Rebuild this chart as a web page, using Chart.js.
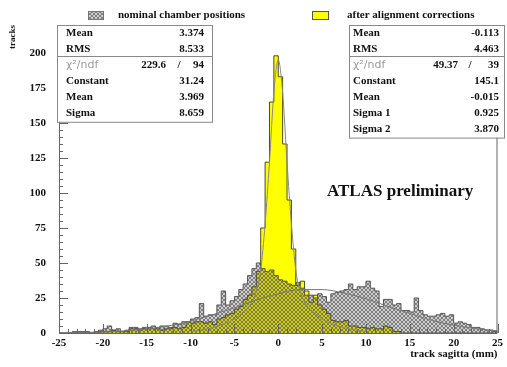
<!DOCTYPE html>
<html>
<head>
<meta charset="utf-8">
<script src="https://cdn.jsdelivr.net/npm/chart.js@4.4.0/dist/chart.umd.min.js"></script>
<style>
  html, body { margin: 0; padding: 0; background: #fff; }
  #wrap { position: relative; width: 507px; height: 367px; }
</style>
</head>
<body>
<div id="wrap">
  <canvas id="sagitta" width="507" height="367"></canvas>
</div>
<script>
// Histogramas: 100 bins de 0.5 mm entre -25 e 25
var histMin = -25
var binWidth = 0.5

// Posições nominais das câmaras (cinza, hachurado)
var nominal = [
  0, 0, 0, 1, 1, 1, 1, 0, 1, 2,
  3, 5, 2, 3, 1, 2, 4, 4, 3, 4,
  4, 5, 4, 5, 5, 4, 7, 6, 8, 8,
  10, 11, 21, 12, 13, 13, 20, 30, 20, 23,
  26, 31, 35, 41, 46, 50, 46, 44, 45, 41,
  38, 37, 35, 34, 36, 32, 27, 27, 25, 28,
  26, 22, 28, 29, 30, 31, 35, 31, 33, 33,
  37, 32, 30, 19, 24, 24, 20, 21, 16, 16,
  15, 25, 16, 13, 12, 12, 13, 14, 12, 13,
  7, 8, 7, 6, 4, 4, 3, 2, 2, 1
]

// Depois das correções de alinhamento (amarelo)
var aligned = [
  0, 0, 0, 0, 0, 0, 0, 0, 0, 1,
  1, 1, 2, 1, 1, 1, 3, 3, 2, 3,
  3, 3, 3, 2, 3, 3, 4, 3, 4, 8,
  7, 8, 8, 7, 8, 6, 10, 11, 13, 14,
  17, 19, 24, 27, 33, 44, 75, 122, 165, 198,
  183, 135, 95, 60, 34, 37, 30, 22, 27, 20,
  17, 14, 9, 8, 8, 9, 5, 5, 4, 4,
  3, 4, 3, 3, 5, 4, 1, 1, 0, 0,
  0, 0, 0, 0, 0, 0, 0, 0, 0, 0,
  0, 0, 0, 0, 0, 0, 0, 0, 0, 0
]

// Curvas de ajuste
var fitNominalX = [-25, -22.5, -20, -17.5, -15, -12.5, -10, -7.5, -5, -2.5, 0, 2.5, 5, 7.5, 10, 12.5, 15, 17.5, 20, 22.5, 25]
var fitNominalY = [0.1, 0.3, 0.7, 1.5, 2.8, 5.1, 8.5, 13, 18, 23.5, 28, 31, 31, 28.5, 24.5, 19, 14, 9, 5.6, 3.2, 1.6]
var fitAlignedX = [-10, -8, -6, -5, -4, -3, -2.5, -2, -1.5, -1, -0.5, 0, 0.5, 1, 1.5, 2, 2.5, 3, 4, 5, 6, 8, 10]
var fitAlignedY = [1, 3, 7, 10, 15, 22, 30, 45, 78, 122, 172, 195, 172, 122, 78, 45, 30, 22, 15, 10, 7, 3, 1]

// Eixos
var xTicks = [-25, -20, -15, -10, -5, 0, 5, 10, 15, 20, 25]
var yTicks = [0, 25, 50, 75, 100, 125, 150, 175, 200]
var yMax = 220

// Caixas de estatística
var statsNominal = [
  ['Mean', '3.374'],
  ['RMS', '8.533'],
  ['chi2', '229.6', '94'],
  ['Constant', '31.24'],
  ['Mean', '3.969'],
  ['Sigma', '8.659']
]
var statsAligned = [
  ['Mean', '-0.113'],
  ['RMS', '4.463'],
  ['chi2', '49.37', '39'],
  ['Constant', '145.1'],
  ['Mean', '-0.015'],
  ['Sigma 1', '0.925'],
  ['Sigma 2', '3.870']
]

var serif = '"Liberation Serif", "DejaVu Serif", serif'

// Converte bins em pontos de degrau
function histPoints(values) {
  let pts = [{ x: histMin, y: 0 }]
  for (let i = 0; i < values.length; i++) {
    pts.push({ x: histMin + i * binWidth, y: values[i] })
  }
  let end = histMin + values.length * binWidth
  pts.push({ x: end, y: values[values.length - 1] })
  pts.push({ x: end, y: 0 })
  return pts
}

function curvePoints(xs, ys) {
  return xs.map((x, i) => ({ x: x, y: ys[i] }))
}

// Padrão hachurado cinza
function makeHatch() {
  let c = document.createElement('canvas')
  c.width = 4
  c.height = 4
  let g = c.getContext('2d')
  g.fillStyle = 'rgba(110, 110, 110, 0.34)'
  g.fillRect(0, 0, 4, 4)
  g.fillStyle = 'rgba(60, 60, 60, 0.55)'
  for (let i = 0; i < 4; i++) {
    g.fillRect(i, i, 1, 1)
    g.fillRect(3 - i, i, 1, 1)
  }
  return g.createPattern(c, 'repeat')
}

var hatch = makeHatch()

// Moldura, marcas menores, legenda e caixas
var decorations = {
  id: 'decorations',
  afterDatasetsDraw(chart) {
    let ctx = chart.ctx
    let a = chart.chartArea
    let xs = chart.scales.x
    let ys = chart.scales.y
    ctx.save()
    ctx.strokeStyle = '#666'
    ctx.lineWidth = 1
    ctx.beginPath()
    ctx.moveTo(a.left + 0.5, a.top)
    ctx.lineTo(a.left + 0.5, a.bottom + 0.5)
    ctx.lineTo(a.right - 0.5, a.bottom + 0.5)
    ctx.lineTo(a.right - 0.5, a.top)
    // marcas do eixo y
    for (let v = 0; v <= yMax; v += 5) {
      let py = Math.round(ys.getPixelForValue(v)) + 0.5
      let len = v % 25 === 0 ? 9 : 4
      ctx.moveTo(a.left, py)
      ctx.lineTo(a.left + len, py)
    }
    // marcas do eixo x
    for (let v = -25; v <= 25; v += 1) {
      let px = Math.round(xs.getPixelForValue(v)) + 0.5
      let len = v % 5 === 0 ? 9 : 4
      ctx.moveTo(px, a.bottom)
      ctx.lineTo(px, a.bottom - len)
    }
    ctx.stroke()

    // legenda
    ctx.fillStyle = hatch
    ctx.fillRect(88, 11, 15, 8)
    ctx.strokeStyle = '#777'
    ctx.strokeRect(88.5, 11.5, 15, 8)
    ctx.fillStyle = '#ffff00'
    ctx.fillRect(312, 11, 16, 8)
    ctx.strokeStyle = '#555'
    ctx.strokeRect(312.5, 11.5, 16, 8)
    ctx.fillStyle = '#111'
    ctx.font = 'bold 11px ' + serif
    ctx.textBaseline = 'middle'
    ctx.textAlign = 'left'
    ctx.fillText('nominal chamber positions', 118, 15)
    ctx.fillText('after alignment corrections', 347, 15)

    // caixas de estatística
    statsBox(ctx, statsNominal, 57, 213, 66, 204, 179, 166)
    statsBox(ctx, statsAligned, 349, 505, 353, 499, 470, 458)

    // texto ATLAS
    ctx.fillStyle = '#111'
    ctx.font = 'bold 17px ' + serif
    ctx.textAlign = 'left'
    ctx.fillText('ATLAS preliminary', 327, 192)
    ctx.restore()
  }
}

function statsBox(ctx, rows, left, right, labelX, valueX, slashX, chiX) {
  let top = 25
  let rowH = 15.8
  let bottom = top + 8 + rows.length * rowH - 6
  ctx.fillStyle = '#fff'
  ctx.fillRect(left, top, right - left, bottom - top)
  ctx.strokeStyle = '#888'
  ctx.strokeRect(left + 0.5, top + 0.5, right - left - 1, bottom - top)
  let sep = Math.round(top + 8 + 1.5 * rowH - 0.5) + 0.5
  ctx.beginPath()
  ctx.moveTo(left, sep)
  ctx.lineTo(right, sep)
  ctx.stroke()
  ctx.textBaseline = 'middle'
  for (let i = 0; i < rows.length; i++) {
    let y = top + 8 + i * rowH + (i >= 2 ? 1 : 0)
    let r = rows[i]
    if (r[0] === 'chi2') {
      ctx.fillStyle = '#9a9a9a'
      ctx.font = '11px "DejaVu Sans", sans-serif'
      ctx.textAlign = 'left'
      ctx.fillText('\u03c7\u00b2/ndf', labelX, y)
      ctx.fillStyle = '#111'
      ctx.font = 'bold 11px ' + serif
      ctx.textAlign = 'right'
      ctx.fillText(r[1], chiX, y)
      ctx.textAlign = 'center'
      ctx.fillText('/', slashX, y)
      ctx.textAlign = 'right'
      ctx.fillText(r[2], valueX, y)
    } else {
      ctx.fillStyle = '#111'
      ctx.font = 'bold 11px ' + serif
      ctx.textAlign = 'left'
      ctx.fillText(r[0], labelX, y)
      ctx.textAlign = 'right'
      ctx.fillText(r[1], valueX, y)
    }
  }
}

var chart = new Chart(document.getElementById('sagitta').getContext('2d'), {
  type: 'line',
  data: {
    datasets: [{
      label: 'nominal chamber positions',
      data: histPoints(nominal),
      stepped: 'before',
      fill: 'origin',
      backgroundColor: hatch,
      borderColor: '#555',
      borderWidth: 1,
      pointRadius: 0,
      order: 1
    }, {
      label: 'after alignment corrections',
      data: histPoints(aligned),
      stepped: 'before',
      fill: 'origin',
      backgroundColor: '#ffff00',
      borderColor: '#4a4a20',
      borderWidth: 1,
      pointRadius: 0,
      order: 2
    }, {
      label: 'fit nominal',
      data: curvePoints(fitNominalX, fitNominalY),
      fill: false,
      borderColor: '#777',
      borderWidth: 1,
      pointRadius: 0,
      cubicInterpolationMode: 'monotone',
      order: 0
    }, {
      label: 'fit aligned',
      data: curvePoints(fitAlignedX, fitAlignedY),
      fill: false,
      borderColor: '#888',
      borderWidth: 1,
      pointRadius: 0,
      cubicInterpolationMode: 'monotone',
      order: 0
    }]
  },
  options: {
    responsive: false,
    animation: false,
    devicePixelRatio: 1,
    layout: { padding: { left: 0, top: 25, right: 2, bottom: 0 } },
    plugins: {
      legend: { display: false },
      tooltip: { enabled: false }
    },
    scales: {
      x: {
        type: 'linear',
        min: -25,
        max: 25,
        afterFit(scale) { scale.height = 34 },
        afterBuildTicks(scale) { scale.ticks = xTicks.map(v => ({ value: v })) },
        grid: { display: false, drawTicks: false },
        border: { display: false },
        ticks: {
          padding: 4,
          color: '#111',
          maxRotation: 0,
          font: { family: serif, size: 11, weight: 'bold' }
        },
        title: {
          display: true,
          text: 'track sagitta (mm)',
          align: 'end',
          color: '#111',
          padding: { top: 0, bottom: 6 },
          font: { family: serif, size: 11, weight: 'bold' }
        }
      },
      y: {
        min: 0,
        max: yMax,
        afterFit(scale) { scale.width = 59 },
        afterBuildTicks(scale) { scale.ticks = yTicks.map(v => ({ value: v })) },
        grid: { display: false, drawTicks: false },
        border: { display: false },
        ticks: {
          padding: 13,
          color: '#111',
          font: { family: serif, size: 11, weight: 'bold' }
        },
        title: {
          display: true,
          text: 'tracks',
          align: 'end',
          color: '#111',
          padding: { top: 7, bottom: 0 },
          font: { family: serif, size: 9, weight: 'bold' }
        }
      }
    }
  },
  plugins: [decorations]
})
</script>
</body>
</html>
